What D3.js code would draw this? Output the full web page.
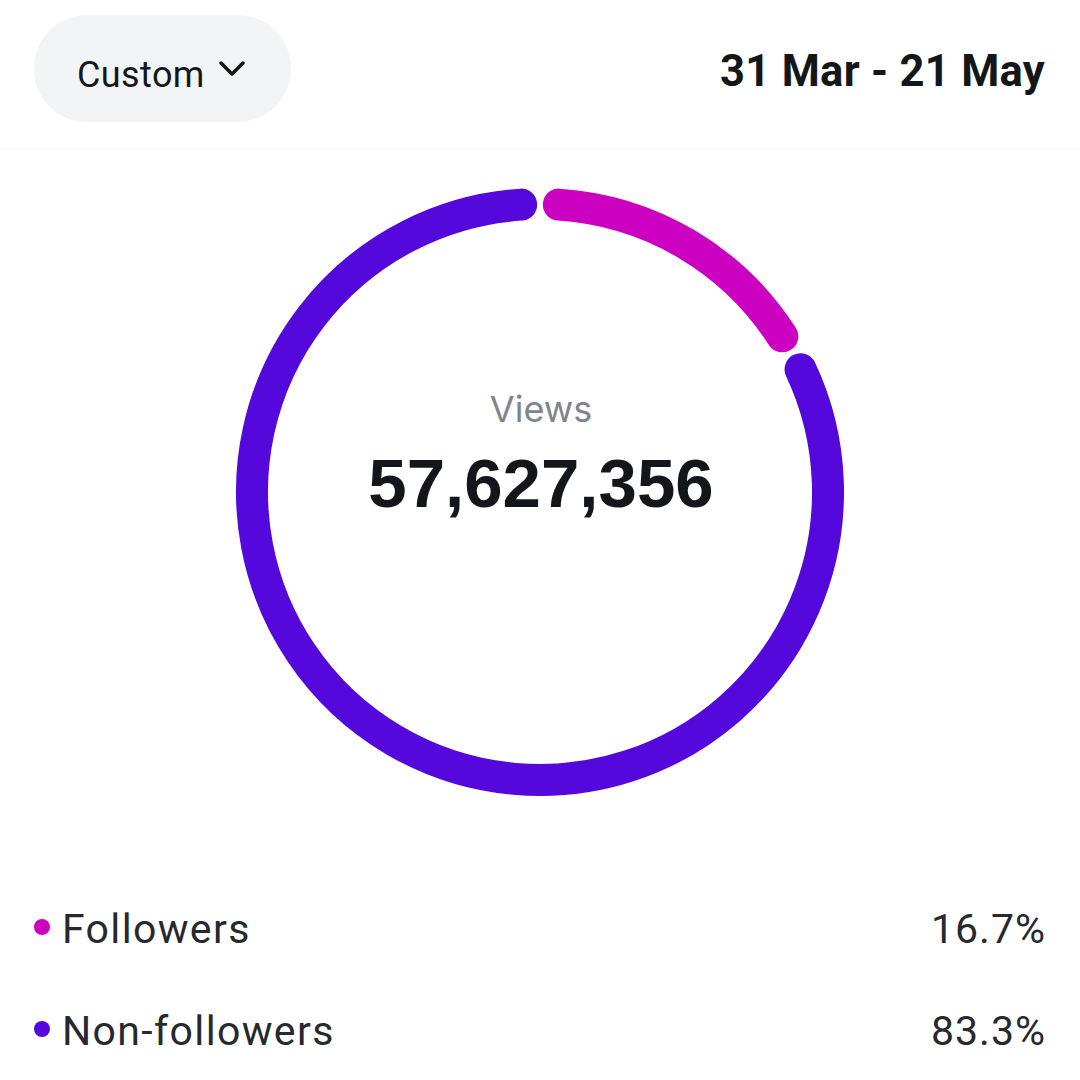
<!doctype html>
<html lang="en">
<head>
<meta charset="utf-8">
<title>Views donut</title>
<script src="https://cdn.jsdelivr.net/npm/d3@7"></script>
<style>
  html, body { margin: 0; padding: 0; background: #fff; }
  text { font-family: Roboto, sans-serif; }
</style>
</head>
<body>
<div id="chart"></div>
<script>
const categories = ["Followers", "Non-followers"];
const values = [16.7, 83.3];
const valueLabels = ["16.7%", "83.3%"];
const colors = ["#cc00c0", "#5408dc"];
const dateRange = "31 Mar - 21 May";
const centerTitle = "Views";
const centerValue = "57,627,356";

const size = 1080;
const svg = d3.select("#chart").append("svg")
  .attr("width", size).attr("height", size)
  .style("display", "block");

// top bar
svg.append("rect").attr("x", 34).attr("y", 15).attr("width", 257).attr("height", 107)
  .attr("rx", 53).attr("fill", "#f3f4f6");
svg.append("text").attr("x", 77).attr("y", 87).attr("font-size", 36)
  .attr("letter-spacing", 0.4).attr("fill", "#14171a").text("Custom");
svg.append("path").attr("d", "M221 63 L232 74 L243 63").attr("fill", "none")
  .attr("stroke", "#14171a").attr("stroke-width", 3.5).attr("stroke-linecap", "round").attr("stroke-linejoin", "round");
svg.append("text").attr("x", 1045).attr("y", 86).attr("text-anchor", "end")
  .attr("font-size", 43.5).attr("font-weight", 700).attr("letter-spacing", 0.3).attr("fill", "#14171a").text(dateRange);
svg.append("line").attr("x1", 0).attr("x2", size).attr("y1", 148.5).attr("y2", 148.5)
  .attr("stroke", "#f4f5f6").attr("stroke-width", 1);

// donut - zero width arcs with a thick round stroke, gives clean caps
const midR = 288, thickness = 32;
const arcs = d3.pie().sort(null).value(d => d)(values);
const centerG = svg.append("g").attr("transform", "translate(540,492)");
const arc = d3.arc().innerRadius(midR).outerRadius(midR);
const gapAngle = 0.131;
const boundaryShift = 0.016; // the second gap sits a little past the 16.7% mark
centerG.selectAll("path.slice").data(arcs).enter().append("path")
  .attr("class", "slice")
  .attr("d", (d, i) => arc({
    startAngle: d.startAngle + gapAngle / 2 + (i === 1 ? boundaryShift : 0),
    endAngle: d.endAngle - gapAngle / 2 + (i === 0 ? boundaryShift : 0)
  }))
  .attr("fill", "none")
  .attr("stroke", (d, i) => colors[i])
  .attr("stroke-width", thickness)
  .attr("stroke-linecap", "round")
  .attr("stroke-linejoin", "round");

centerG.append("text").attr("x", 1).attr("y", -70).attr("text-anchor", "middle")
  .style("font-family", "Inter, sans-serif")
  .attr("font-size", 36).attr("fill", "#7f858c").text(centerTitle);
centerG.append("text").attr("x", 1).attr("y", 15).attr("text-anchor", "middle")
  .style("font-family", "'Liberation Sans', sans-serif")
  .attr("font-size", 69).attr("font-weight", 700).attr("fill", "#14171a").text(centerValue);

// legend
const legendY = d3.scalePoint().domain(categories).range([927, 1029]);
const legend = svg.selectAll("g.legend").data(categories).enter().append("g")
  .attr("class", "legend")
  .attr("transform", d => `translate(0,${legendY(d)})`);
legend.append("circle").attr("cx", 42).attr("cy", 0).attr("r", 8).attr("fill", (d, i) => colors[i]);
legend.append("text").attr("x", 62).attr("y", 16).attr("font-size", 41).attr("letter-spacing", 1.35)
  .attr("fill", "#26292d").text(d => d);
legend.append("text").attr("x", 1046).attr("y", 16).attr("text-anchor", "end")
  .attr("font-size", 41).attr("letter-spacing", 1).attr("fill", "#26292d").text((d, i) => valueLabels[i]);
</script>
</body>
</html>
